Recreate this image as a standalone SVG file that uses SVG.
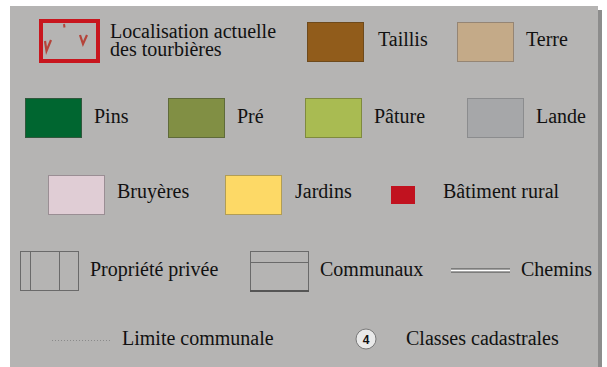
<svg xmlns="http://www.w3.org/2000/svg" width="607" height="367" viewBox="0 0 607 367">
<rect x="0" y="0" width="607" height="367" fill="#ffffff"/>
<rect x="598" y="10" width="4" height="357" fill="#8c8c8c"/>
<rect x="10" y="6" width="588" height="361" fill="#b5b4b3"/>
<g id="tourbieres">
<rect x="41" y="21" width="57" height="40" fill="none" stroke="#c8161e" stroke-width="4"/>
<path d="M64 24 L64.5 27.5" stroke="#b5443a" stroke-width="2" fill="none"/>
<path d="M45 41 L46.5 51 L51 40" stroke="#b5443a" stroke-width="2.2" fill="none"/>
<path d="M80 35 L83 44 L87 35" stroke="#b5443a" stroke-width="2.2" fill="none"/>
<text x="110" y="38" font-family="serif" font-size="20" fill="#111">Localisation actuelle</text>
<text x="110" y="56" font-family="serif" font-size="20" fill="#111">des tourbières</text>
</g>
<g id="taillis"><rect x="307.5" y="22.5" width="56" height="39" fill="#915c1b" stroke="#6e4a1c"/><text x="378" y="46" font-family="serif" font-size="20" fill="#111">Taillis</text></g>
<g id="terre"><rect x="457.5" y="22.5" width="56" height="39" fill="#c4aa88" stroke="#958574"/><text x="526" y="46" font-family="serif" font-size="20" fill="#111">Terre</text></g>
<g id="pins"><rect x="25.5" y="98.5" width="56" height="39" fill="#006630" stroke="#30573c"/><text x="94" y="123" font-family="serif" font-size="20" fill="#111">Pins</text></g>
<g id="pre"><rect x="168.5" y="98.5" width="56" height="39" fill="#818f44" stroke="#5f6a3a"/><text x="237" y="123" font-family="serif" font-size="20" fill="#111">Pré</text></g>
<g id="pature"><rect x="305.5" y="98.5" width="56" height="39" fill="#a9bb52" stroke="#7f8a3e"/><text x="374" y="123" font-family="serif" font-size="20" fill="#111">Pâture</text></g>
<g id="lande"><rect x="467.5" y="98.5" width="56" height="39" fill="#a6a7a9" stroke="#8b8c8e"/><text x="536" y="123" font-family="serif" font-size="20" fill="#111">Lande</text></g>
<g id="bruyeres"><rect x="48.5" y="175.5" width="56" height="39" fill="#e0cdd5" stroke="#9a8e94"/><text x="117" y="198" font-family="serif" font-size="20" fill="#111">Bruyères</text></g>
<g id="jardins"><rect x="225.5" y="175.5" width="56" height="39" fill="#fdd966" stroke="#b29d55"/><text x="295" y="198" font-family="serif" font-size="20" fill="#111">Jardins</text></g>
<g id="batiment"><rect x="391" y="186" width="24" height="18" fill="#c1121f"/><text x="443" y="198" font-family="serif" font-size="20" fill="#111">Bâtiment rural</text></g>
<g id="propriete">
<rect x="20.5" y="251.5" width="58" height="39" fill="none" stroke="#6a6a6a"/>
<line x1="30.5" y1="251.5" x2="30.5" y2="290.5" stroke="#6a6a6a"/>
<line x1="59.5" y1="251.5" x2="59.5" y2="290.5" stroke="#6a6a6a"/>
<text x="90" y="276" font-family="serif" font-size="20" fill="#111">Propriété privée</text>
</g>
<g id="communaux">
<rect x="250.5" y="251.5" width="58" height="39" fill="none" stroke="#6a6a6a"/>
<line x1="250.5" y1="262.5" x2="308.5" y2="262.5" stroke="#6a6a6a"/>
<line x1="250" y1="291" x2="309" y2="291" stroke="#555" stroke-width="2"/>
<text x="320" y="276" font-family="serif" font-size="20" fill="#111">Communaux</text>
</g>
<g id="chemins">
<line x1="451" y1="270.5" x2="510" y2="270.5" stroke="#444" stroke-width="4"/>
<line x1="451" y1="270.5" x2="510" y2="270.5" stroke="#ffffff" stroke-width="2"/>
<text x="521" y="276" font-family="serif" font-size="20" fill="#111">Chemins</text>
</g>
<g id="limite">
<line x1="52" y1="340.5" x2="110" y2="340.5" stroke="#8a8a8a" stroke-width="1" stroke-dasharray="1 2"/>
<text x="122" y="345" font-family="serif" font-size="20" fill="#111">Limite communale</text>
</g>
<g id="classes">
<circle cx="366" cy="339" r="10" fill="#e9e9e9" stroke="#7a7a7a" stroke-width="1"/>
<text x="366" y="343.5" text-anchor="middle" font-family="Liberation Sans, Arial, sans-serif" font-size="12" font-weight="bold" fill="#111">4</text>
<text x="406" y="345" font-family="serif" font-size="20" fill="#111">Classes cadastrales</text>
</g>
</svg>
